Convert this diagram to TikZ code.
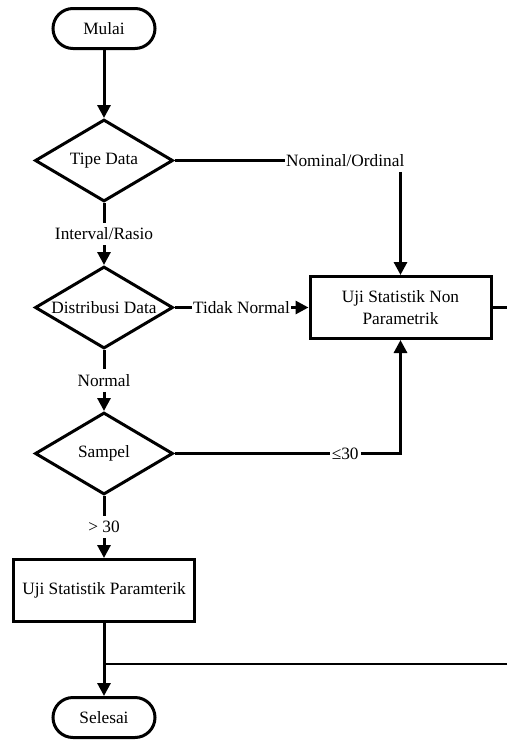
\documentclass[tikz,border=0pt]{standalone}
\usepackage{fontspec}
\setmainfont{Liberation Serif}
\usetikzlibrary{positioning, shapes.geometric, arrows.meta, calc}

\begin{document}
\begin{tikzpicture}[
    x=1pt, y=1pt,
    font=\fontsize{17.3}{22}\selectfont,
    term/.style={rectangle, draw, line width=3pt, rounded corners=20pt, minimum height=40pt, minimum width=102pt, align=center},
    decision/.style={diamond, draw, line width=3pt, aspect=1.66, minimum width=138pt, minimum height=82pt, inner sep=0pt, align=center},
    box/.style={rectangle, draw, line width=3pt, minimum height=62pt, minimum width=181pt, align=center},
    arrow/.style={-{Triangle[length=13pt, width=13pt]}, line width=3pt},
    line/.style={line width=3pt},
    lbl/.style={inner xsep=1pt, inner ysep=5pt}
]
\useasboundingbox (0,0) rectangle (507,-742);
\coordinate (rim) at (507,0);

% Main column
\node[term] (mulai) at (104,-28.5) {Mulai};
\node[decision, below=68pt of mulai] (tipe) {Tipe Data};
\node[decision, below=62pt of tipe] (distr) {Distribusi Data};
\node[decision, below=61pt of distr] (sampel) {Sampel};
\node[box, below=62pt of sampel] (param) {Uji Statistik Paramterik};
\node[term, below=73pt of param] (selesai) {Selesai};

% Right column
\node[box, right=134pt of distr] (nonparam) {Uji Statistik Non\\Parametrik};

% Labels on the connectors
\node[lbl, anchor=east] (lnom) at ($(tipe -| nonparam)+(5,0)$) {Nominal/Ordinal};
\node[lbl] (lint) at ($(tipe.south)!0.5!(distr.north)$) {Interval/Rasio};
\node[lbl] (ltn) at ($(distr.east)!0.5!(nonparam.west)$) {Tidak Normal};
\node[lbl] (lnorm) at ($(distr.south)!0.5!(sampel.north)$) {Normal};
\node[lbl, inner xsep=2pt] (lle) at (sampel -| lnom) {≤30};
\node[lbl] (lgt) at ($(sampel.south)!0.5!(param.north)$) {> 30};

% Connectors
\draw[arrow] (mulai) -- (tipe);
\draw[line] (tipe) -- (lnom);
\draw[arrow] (lnom.south -| nonparam) -- (nonparam);
\draw[line] (tipe) -- (lint);
\draw[arrow] (lint) -- (distr);
\draw[line] (distr) -- (ltn);
\draw[arrow] (ltn) -- (nonparam);
\draw[line] (distr) -- (lnorm);
\draw[arrow] (lnorm) -- (sampel);
\draw[line] (sampel) -- (lle);
\draw[arrow] (lle) -| (nonparam);
\draw[line] (sampel) -- (lgt);
\draw[arrow] (lgt) -- (param);
\draw[line] (nonparam) -- (nonparam -| rim);

% Return line to Selesai
\coordinate (join) at ($(param.south)!0.56!(selesai.north)$);
\draw[arrow] (param) -- (selesai);
\draw[line, line width=2pt] (join -| rim) -- (join);
\end{tikzpicture}
\end{document}
